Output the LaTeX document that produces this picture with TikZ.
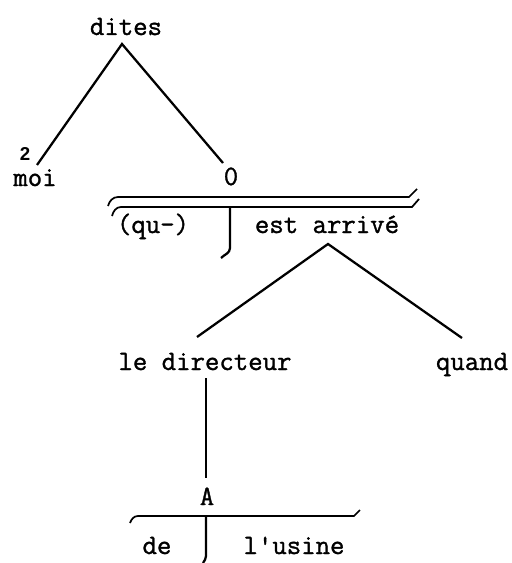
\documentclass[tikz,border=0pt]{standalone}
\usepackage{fontspec}
\newfontfamily\numfont{Liberation Sans}
\newfontfamily\twfont{Latin Modern Mono}[FakeBold=1.2]
\begin{document}
\begin{tikzpicture}[x=0.75pt,y=-0.75pt,
  lbl/.style={font=\twfont\fontsize{21}{23}\selectfont, inner sep=0pt, anchor=base},
  branch/.style={line width=1.7pt},
  rail/.style={line width=1.3pt}]
\useasboundingbox (0,0) rectangle (511,563);
% texts
\node[lbl] (dites) at (126,35) {dites};
\node[lbl] (moi) at (35,186) {moi};
\node[font=\numfont\bfseries\fontsize{14}{14}\selectfont, inner sep=0pt, anchor=base] (two) at (25,161) {2};
\node[lbl] (zero) at (231,185) {0};
\node[lbl] (qu) at (153,233) {(qu-)};
\node[lbl] (arrive) at (327,233) {est arrivé};
\node[lbl] (dir) at (205,370) {le directeur};
\node[lbl] (quand) at (472,370) {quand};
\node[lbl] (A) at (207,505) {A};
\node[lbl] (de) at (157,554) {de};
\node[lbl] (usine) at (294,554) {l'usine};
% connector ends
\coordinate (d0) at (122,44);
\coordinate (dl) at (37,165);
\coordinate (dr) at (223,163);
\coordinate (a0) at (328,244);
\coordinate (al) at (197,337);
\coordinate (ar) at (462,338);
\coordinate (v1) at (206,378);
\coordinate (v2) at (206,478);
% tree branches
\draw[branch] (dl) -- (d0) -- (dr);
\draw[branch] (al) -- (a0) -- (ar);
\draw[branch] (v1) -- (v2);
% double rail under 0
\draw[rail] (108,206) to[out=75,in=180] (118,197) -- (409,197) -- (417,189);
\draw[rail] (112,216) to[out=75,in=180] (121,207) -- (412,207) -- (419,199);
\draw[branch] (230,208) -- (230,248) to[out=270,in=45] (221,258);
% rail under A
\draw[rail] (130,523) to[out=70,in=180] (138,516) -- (354,516) -- (360,510);
\draw[branch] (206,516) -- (206,556) to[out=270,in=60] (203,563);
\end{tikzpicture}
\end{document}
